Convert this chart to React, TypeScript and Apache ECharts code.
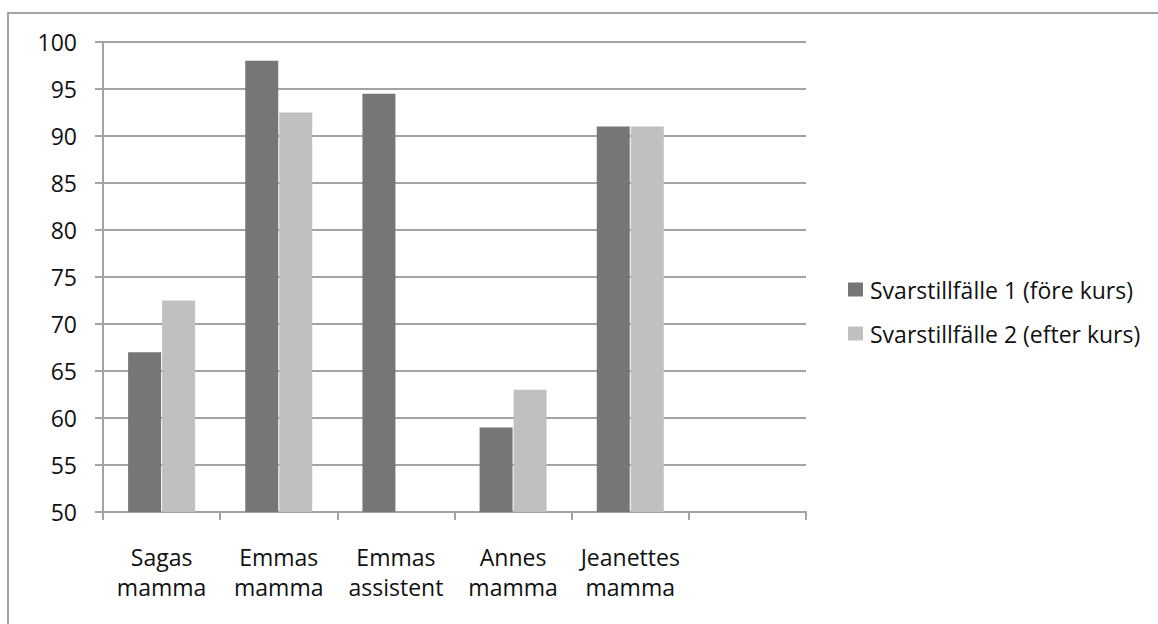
import React, { useEffect, useRef } from "react";
import * as echarts from "echarts";

const categories = ["Sagas\nmamma", "Emmas\nmamma", "Emmas\nassistent", "Annes\nmamma", "Jeanettes\nmamma", ""];
const series1Name = "Svarstillfälle 1 (före kurs)";
const series2Name = "Svarstillfälle 2 (efter kurs)";
const series1 = [67, 98, 94.5, 59, 91, null];
const series2 = [72.5, 92.5, null, 63, 91, null];

const FONT = "'Open Sans', sans-serif";
const GRAY = "#a3a3a3";

export default function App() {
  const ref = useRef<HTMLDivElement>(null);
  useEffect(() => {
    if (!ref.current) return;
    const chart = echarts.init(ref.current, null, { renderer: "svg" });
    chart.setOption({
      animation: false,
      backgroundColor: "#ffffff",
      textStyle: { fontFamily: FONT },
      graphic: [
        {
          type: "rect",
          shape: { x: 8, y: 13, width: 1200, height: 700 },
          style: { fill: "none", stroke: GRAY, lineWidth: 2 },
          silent: true,
        },
      ],
      grid: { left: 103, right: 352, top: 42, bottom: 112 },
      legend: {
        orient: "vertical",
        left: 843,
        top: 273,
        itemWidth: 15,
        itemHeight: 14,
        itemGap: 21,
        icon: "rect",
        textStyle: { fontFamily: FONT, fontSize: 23, color: "#111", padding: [0, 0, 0, 2] },
        data: [series1Name, series2Name],
      },
      xAxis: {
        type: "category",
        data: categories,
        boundaryGap: true,
        axisLine: { show: true, lineStyle: { color: GRAY, width: 2 } },
        axisTick: { show: true, length: 8, interval: 0, alignWithLabel: false, lineStyle: { color: GRAY, width: 2 } },
        axisLabel: {
          interval: 0,
          margin: 30,
          fontFamily: FONT,
          fontSize: 23,
          lineHeight: 30,
          color: "#111",
        },
        splitLine: { show: false },
      },
      yAxis: {
        type: "value",
        min: 50,
        max: 100,
        interval: 5,
        axisLine: { show: true, lineStyle: { color: GRAY, width: 2 } },
        axisTick: { show: true, length: 8, lineStyle: { color: GRAY, width: 2 } },
        axisLabel: { margin: 26, fontFamily: FONT, fontSize: 23, color: "#111" },
        splitLine: { show: true, lineStyle: { color: GRAY, width: 2 } },
      },
      series: [
        {
          name: series1Name,
          type: "bar",
          data: series1,
          barWidth: 33,
          barGap: "3%",
          itemStyle: { color: "#767676" },
        },
        {
          name: series2Name,
          type: "bar",
          data: series2,
          barWidth: 33,
          itemStyle: { color: "#c0c0c0" },
        },
      ],
    });
    return () => chart.dispose();
  }, []);
  return (
    <div
      ref={ref}
      style={{ position: "absolute", left: 0, top: 0, width: 1158, height: 624 }}
    />
  );
}
